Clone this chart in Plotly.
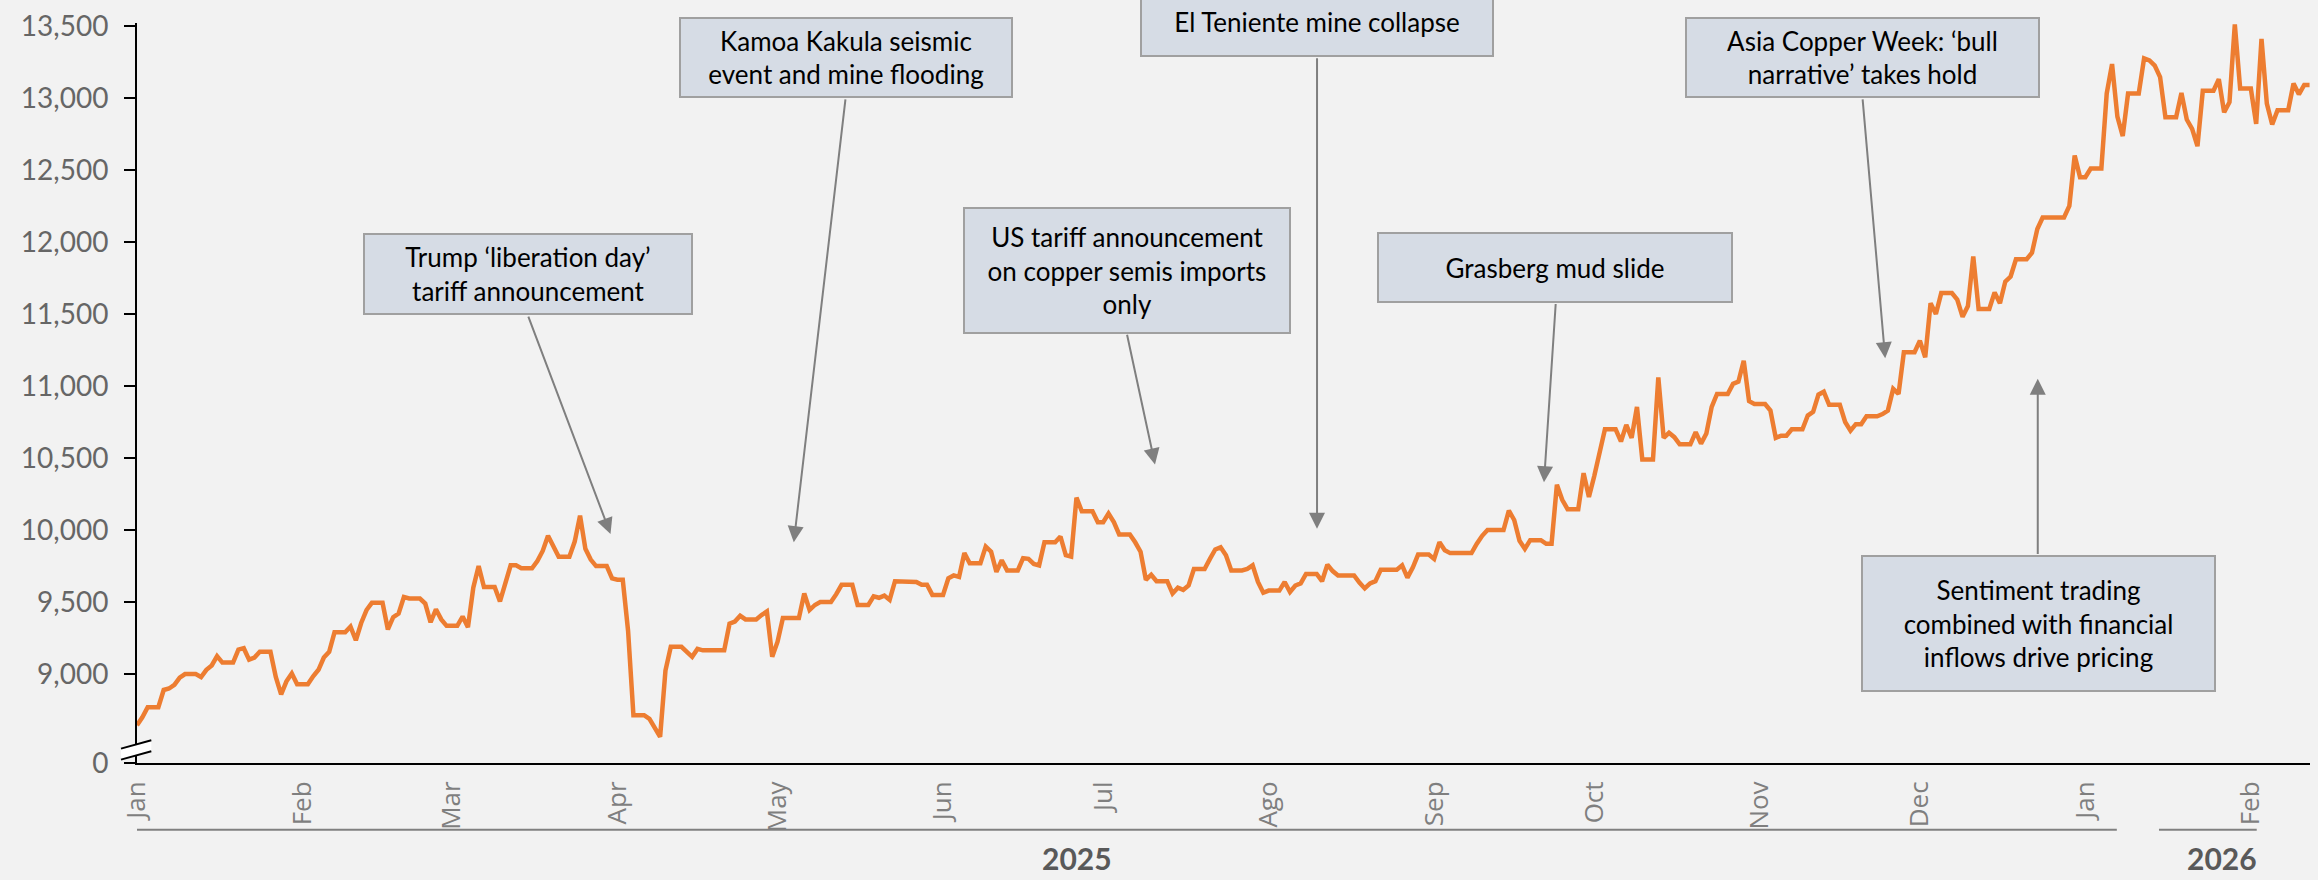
import pandas as pd
import plotly.graph_objects as go

# ---------------- data: LME copper cash price, weekday values ----------------
jan_2025 = [8645, 8700, 8770, 8890, 8900, 8925, 8975, 9000, 8980, 9030, 9060, 9125, 9080,
            9170, 9180, 9100, 9115, 9155, 8980, 8860, 8950, 9005, 8930]
feb_2025 = [8985, 9030, 9115, 9155, 9290, 9330, 9235, 9355, 9445, 9495,
            9310, 9395, 9420, 9535, 9525, 9490, 9360, 9450, 9380, 9335]
mar_2025 = [9400, 9325, 9600, 9750, 9605, 9505, 9645, 9755, 9755, 9735,
            9785, 9855, 9960, 9890, 9815, 9920, 10100, 9870, 9795, 9750, 9665]
apr_2025 = [9655, 9655, 9300, 8715, 8690, 8620, 8565, 9025, 9190, 9155, 9120,
            9175, 9165, 9165, 9165, 9350, 9365, 9405, 9380, 9410, 9435, 9120]
may_2025 = [9225, 9390, 9390, 9560, 9445, 9480, 9500, 9555, 9620, 9620, 9620,
            9480, 9540, 9530, 9545, 9515, 9645, 9645, 9640, 9620, 9620, 9550]
jun_2025 = [9665, 9685, 9675, 9840, 9770, 9885, 9850, 9710, 9790, 9720, 9805,
            9800, 9765, 9755, 9915, 9955, 9825, 9815, 10225, 10130, 10055]
jul_2025 = [10055, 10115, 10055, 9970, 9915, 9850, 9655, 9690, 9645, 9560, 9600, 9585,
            9615, 9730, 9800, 9865, 9880, 9825, 9720, 9730, 9755, 9640, 9565]
aug_2025 = [9580, 9640, 9570, 9615, 9630, 9695, 9645, 9760, 9715, 9685, 9685,
            9635, 9595, 9630, 9645, 9725, 9725, 9755, 9670, 9740, 9830]
sep_2025 = [9800, 9915, 9860, 9840, 9840, 9840, 9905, 9960, 10000, 10000, 10135,
            10070, 9925, 9870, 9930, 9905, 9905, 10315, 10210, 10145, 10395, 10230]
oct_2025 = [10375, 10530, 10700, 10615, 10730, 10640, 10855, 10490, 11060, 10640, 10675, 10645,
            10595, 10680, 10600, 10670, 10855, 10945, 11015, 11030, 11175, 10895, 10875]
nov_2025 = [10830, 10640, 10655, 10655, 10700, 10795, 10820, 10940, 10960, 10870,
            10750, 10690, 10735, 10735, 10790, 10805, 10830, 10980, 10945, 11235]
dec_2025 = [11315, 11200, 11575, 11500, 11645, 11600, 11480, 11555, 11900, 11535, 11650, 11575,
            11725, 11760, 11880, 11925, 12090, 12170, 12170, 12170, 12250, 12600, 12450]
jan_2026 = [12450, 12510, 13030, 13235, 12870, 12735, 13030, 13275, 13260, 13225, 13145,
            12865, 13035, 12850, 12785, 12665, 13050, 13130, 12900, 12970, 13510, 13065]
feb_2026 = [12820, 13410, 12960, 12815, 12915, 13100, 13025, 13090, 13090]

first_day = "2025-01-01"
last_day = "2026-02-12"

month_ticks = ["2025-01-01", "2025-02-01", "2025-03-01", "2025-04-01", "2025-05-01", "2025-06-01",
               "2025-07-01", "2025-08-01", "2025-09-01", "2025-10-01", "2025-11-01", "2025-12-01",
               "2026-01-01", "2026-02-01"]
month_labels = ["Jan", "Feb", "Mar", "Apr", "May", "Jun", "Jul", "Ago", "Sep", "Oct", "Nov", "Dec",
                "Jan", "Feb"]

y_floor = 8383          # value shown as "0" at the broken axis
y_top = 13520
y_ticks = [9000, 9500, 10000, 10500, 11000, 11500, 12000, 12500, 13000, 13500]

# annotations
event_text = [
    "Trump ‘liberation day’<br>tariff announcement",
    "Kamoa Kakula seismic<br>event and mine flooding",
    "El Teniente mine collapse",
    "US tariff announcement<br>on copper semis imports<br>only",
    "Grasberg mud slide",
    "Asia Copper Week: ‘bull<br>narrative’ takes hold",
    "Sentiment trading<br>combined with financial<br>inflows drive pricing",
]
box_x = ["2025-03-15 05:00", "2025-05-13 18:00", "2025-08-10 01:30", "2025-07-05 10:00",
         "2025-09-23 14:00", "2025-11-20 06:00", "2025-12-23 05:00"]
box_y = [0.6604, 0.9532, 1.0020, 0.6660, 0.6700, 0.9532, 0.1886]
box_w = [330, 334, 354, 328, 356, 355, 355]
box_h = [82, 81, 71, 127, 71, 81, 137]

arrow_tail_x = ["2025-03-15 05:00", "2025-05-13 18:00", "2025-08-10 01:30", "2025-07-05 10:00",
                "2025-09-23 19:00", "2025-11-20 06:00", "2025-12-23 02:00"]
arrow_tail_y = [11492, 13000, 13285, 11366, 11580, 13000, 9824]
arrow_tip_x = ["2025-03-30 17:00", "2025-05-04 01:00", "2025-08-10 01:30", "2025-07-10 17:00",
               "2025-09-21 14:00", "2025-11-24 12:00", "2025-12-23 02:00"]
arrow_tip_y = [9973, 9916, 10010, 10456, 10332, 11193, 11050]

year_labels = ["2025", "2026"]
year_label_x = ["2025-06-26 02:00", "2026-01-26 14:00"]
year_line_start = ["2025-01-01", "2026-01-14 19:00"]
year_line_end = ["2026-01-06 21:30", "2026-02-02 02:30"]

# ---------------- build series (weekends carry Friday's price, as in the source) ----------------
weekday_values = (jan_2025 + feb_2025 + mar_2025 + apr_2025 + may_2025 + jun_2025 + jul_2025 +
                  aug_2025 + sep_2025 + oct_2025 + nov_2025 + dec_2025 + jan_2026 + feb_2026)
weekdays = pd.bdate_range(first_day, last_day)
prices = pd.Series(weekday_values, index=weekdays)
daily = prices.reindex(pd.date_range(first_day, last_day, freq="D"), method="ffill")

ORANGE = "#ED7D31"
TXT = "Lato"

fig = go.Figure()
fig.add_trace(go.Scatter(x=daily.index, y=daily.values, mode="lines",
                         line=dict(color=ORANGE, width=4.5), hoverinfo="skip"))

annotations = []
for t, bx, by, bw, bh in zip(event_text, box_x, box_y, box_w, box_h):
    annotations.append(dict(
        x=bx, y=by, xref="x", yref="paper", text=t, showarrow=False,
        xanchor="center", yanchor="middle", align="center", valign="middle",
        width=bw - 4, height=bh - 4, bgcolor="#d6dce5", bordercolor="#a0a0a0",
        borderwidth=2, borderpad=0, font=dict(family=TXT, size=26, color="black")))
for tx, ty, hx, hy in zip(arrow_tail_x, arrow_tail_y, arrow_tip_x, arrow_tip_y):
    annotations.append(dict(
        x=hx, y=hy, xref="x", yref="y", ax=tx, ay=ty, axref="x", ayref="y",
        text="", showarrow=True, arrowhead=2, arrowsize=1.6, arrowwidth=2,
        arrowcolor="#7f7f7f", standoff=0))
for lab, lx in zip(year_labels, year_label_x):
    annotations.append(dict(
        x=lx, y=-0.1545, xref="x", yref="paper", text="<b>" + lab + "</b>", showarrow=False,
        xanchor="center", yanchor="bottom", borderpad=0,
        font=dict(family=TXT, size=30, color="#595959")))

shapes = []
for x0, x1 in zip(year_line_start, year_line_end):
    shapes.append(dict(type="line", xref="x", yref="paper", x0=x0, x1=x1, y0=-0.0901, y1=-0.0901,
                       line=dict(color="#808080", width=2)))
# axis-break mark
shapes.append(dict(type="path", xref="paper", yref="paper", xsizemode="pixel", ysizemode="pixel",
                   xanchor=0, yanchor=0, path="M -16,3.4 L 14.3,11.7 L 14.3,22.7 L -16,14.4 Z",
                   fillcolor="white", line=dict(color="rgba(0,0,0,0)", width=0), layer="above"))
for ya, yb in [(3.4, 11.7), (14.4, 22.7)]:
    shapes.append(dict(type="line", xref="paper", yref="paper", xsizemode="pixel", ysizemode="pixel",
                       xanchor=0, yanchor=0, x0=-16, y0=ya, x1=14.3, y1=yb,
                       line=dict(color="black", width=2), layer="above"))

fig.update_layout(
    width=2318, height=880,
    paper_bgcolor="#f2f2f2", plot_bgcolor="#f2f2f2",
    margin=dict(l=137, r=8, t=19, b=117),
    showlegend=False,
    annotations=annotations,
    shapes=shapes,
    xaxis=dict(type="date", range=[first_day, "2026-02-12 02:00"],
               tickmode="array", tickvals=month_ticks, ticktext=month_labels,
               tickangle=-90, ticks="", showgrid=False, zeroline=False,
               showline=True, linecolor="black", linewidth=2,
               tickfont=dict(family="Open Sans", size=26, color="#7f7f7f"),
               ticklabelstandoff=6),
    yaxis=dict(range=[y_floor, y_top], tickmode="array",
               tickvals=[y_floor] + y_ticks,
               ticktext=["0"] + [f"{v:,}" for v in y_ticks],
               ticks="outside", ticklen=11, tickwidth=2, tickcolor="black",
               showgrid=False, zeroline=False, showline=True, linecolor="black", linewidth=2,
               tickfont=dict(family=TXT, size=28, color="#666666"),
               ticklabelstandoff=10),
)

fig.write_html("out.html", include_plotlyjs=True, config={"displayModeBar": False},
               post_script="document.body.style.margin='0';document.body.style.overflow='hidden';")
